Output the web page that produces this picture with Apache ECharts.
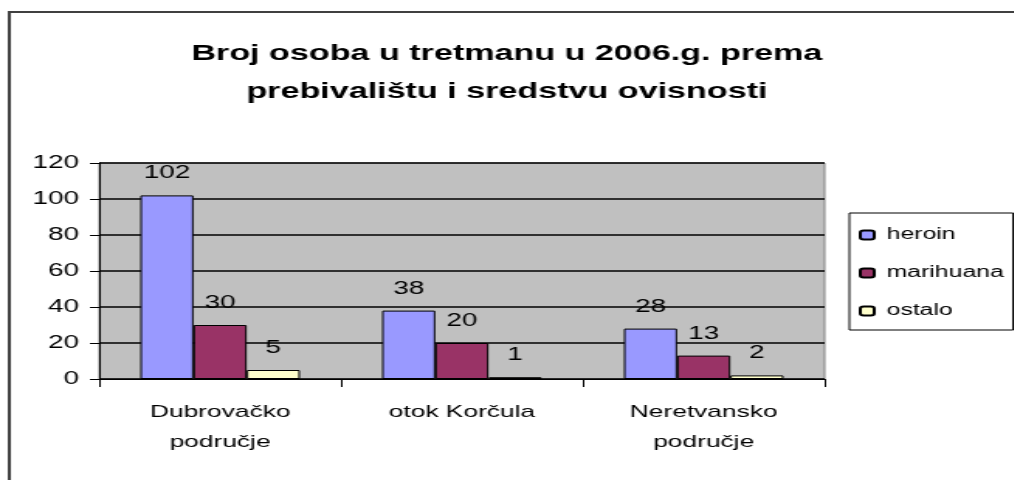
<!DOCTYPE html>
<html>
<head>
<meta charset="utf-8">
<script src="https://cdn.jsdelivr.net/npm/echarts@6/dist/echarts.min.js"></script>
<style>
  html, body { margin: 0; padding: 0; background: #fff; overflow: hidden; }
  /* the original picture is stretched horizontally, so draw narrow and scale */
  #chart { width: 654px; height: 480px; transform: scaleX(1.55); transform-origin: 0 0; }
</style>
</head>
<body>
<div id="chart"></div>
<script>
// podaci
const categories = ['Dubrovačko\npodručje', 'otok Korčula', 'Neretvansko\npodručje'];
const heroin = [102, 38, 28];
const marihuana = [30, 20, 13];
const ostalo = [5, 1, 2];

const FONT = '"Liberation Sans", Arial, sans-serif';

const chart = echarts.init(document.getElementById('chart'));

function barSeries(name, data, color) {
    return {
        name: name,
        type: 'bar',
        data: data,
        barGap: 0,
        barCategoryGap: '34%',
        itemStyle: { color: color, borderColor: '#000', borderWidth: 1 },
        label: {
            show: true,
            position: 'top',
            distance: 13,
            color: '#000',
            fontFamily: FONT,
            fontSize: 18
        }
    };
}

const option = {
    backgroundColor: '#fff',
    animation: false,
    title: {
        text: 'Broj osoba u tretmanu u 2006.g. prema\nprebivalištu i sredstvu ovisnosti',
        left: 'center',
        top: 30,
        textStyle: {
            fontFamily: FONT,
            fontWeight: 'bold',
            fontSize: 22,
            lineHeight: 38,
            color: '#000'
        }
    },
    graphic: [{
        type: 'rect',
        shape: { x: 6, y: 12, width: 700, height: 520 },
        style: { fill: 'none', stroke: '#404040', lineWidth: 2 },
        silent: true
    }],
    legend: {
        orient: 'vertical',
        left: 548,
        top: 213,
        padding: [12, 6, 9, 6],
        itemGap: 18,
        itemWidth: 9,
        itemHeight: 9,
        borderColor: '#000',
        borderWidth: 1,
        textStyle: {
            fontFamily: FONT,
            fontSize: 16,
            lineHeight: 20,
            color: '#000',
            padding: [0, 0, 0, 3]
        },
        data: ['heroin', 'marihuana', 'ostalo']
    },
    grid: {
        left: 64,
        top: 163,
        width: 468,
        height: 216,
        show: true,
        backgroundColor: '#c0c0c0',
        borderColor: '#808080',
        borderWidth: 1
    },
    xAxis: {
        type: 'category',
        data: categories,
        axisLine: { lineStyle: { color: '#000', width: 1 } },
        axisTick: { show: true, length: 8, lineStyle: { color: '#000' } },
        axisLabel: {
            interval: 0,
            margin: 18,
            color: '#000',
            fontFamily: FONT,
            fontSize: 17,
            lineHeight: 30
        }
    },
    yAxis: {
        type: 'value',
        min: 0,
        max: 120,
        interval: 20,
        axisLine: { show: true, lineStyle: { color: '#000', width: 1 } },
        axisTick: { show: true, length: 6, lineStyle: { color: '#000' } },
        axisLabel: {
            margin: 13,
            color: '#000',
            fontFamily: FONT,
            fontSize: 18
        },
        splitLine: { lineStyle: { color: '#000', width: 1.5 } }
    },
    series: [
        barSeries('heroin', heroin, '#9999ff'),
        barSeries('marihuana', marihuana, '#993366'),
        barSeries('ostalo', ostalo, '#ffffcc')
    ]
};

chart.setOption(option);
</script>
</body>
</html>
